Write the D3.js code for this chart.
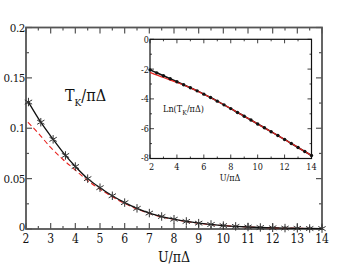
<!DOCTYPE html>
<html>
<head>
<meta charset="utf-8">
<script src="https://cdn.jsdelivr.net/npm/d3@7"></script>
<style>
  body { margin: 0; background: #fff; }
  svg text { font-family: "DejaVu Serif Condensed", "DejaVu Serif", serif; font-stretch: condensed; }
</style>
</head>
<body>
<div class="chart"></div>
<script>
// main panel: T_K / pi Delta vs U / pi Delta
const starU = [2.1, 2.6, 3.1, 3.6, 4, 4.5, 5, 5.5, 6, 6.5, 7, 7.5, 8, 8.5, 9, 9.5, 10, 10.5, 11, 11.5, 12, 12.5, 13, 13.5, 14];
const starTk = [0.126, 0.106, 0.089, 0.073, 0.062, 0.050, 0.041, 0.033, 0.0262, 0.0205, 0.0158, 0.0124, 0.0097, 0.0075, 0.0058, 0.0045, 0.0034, 0.0026, 0.0020, 0.0015, 0.0012, 0.0009, 0.0007, 0.0005, 0.0004];
const redU = [2.08, 2.5, 3, 3.5, 4, 4.5, 5, 5.5, 6, 6.5, 7, 7.5, 8, 9, 10, 11, 12, 13, 14];
const redTk = [0.106, 0.095, 0.081, 0.069, 0.0585, 0.048, 0.0395, 0.032, 0.0253, 0.0198, 0.0154, 0.012, 0.0095, 0.0057, 0.0034, 0.002, 0.0012, 0.0007, 0.0004];
const mainXTicks = [2, 3, 4, 5, 6, 7, 8, 9, 10, 11, 12, 13, 14];
const mainYTicks = [0, 0.05, 0.1, 0.15, 0.2];
const mainYLabels = ['0', '0.05', '0.1', '0.15', '0.2'];

// inset: Ln(T_K / pi Delta)
const insetU = [2, 2.5, 3, 3.5, 4, 4.5, 5, 5.5, 6, 6.5, 7, 7.5, 8, 8.5, 9, 9.5, 10, 10.5, 11, 11.5, 12, 12.5, 13, 13.5, 14];
const insetLn = [-2.05, -2.25, -2.45, -2.65, -2.85, -3.05, -3.25, -3.46, -3.68, -3.91, -4.15, -4.40, -4.65, -4.91, -5.16, -5.42, -5.68, -5.94, -6.20, -6.46, -6.72, -6.99, -7.26, -7.53, -7.80];
const insetRedU = [2, 3, 4, 5, 6, 7, 8, 9, 10, 11, 12, 13, 14];
const insetRedLn = [-2.22, -2.57, -2.90, -3.26, -3.68, -4.15, -4.65, -5.16, -5.68, -6.20, -6.72, -7.26, -7.80];
const insetXTicks = [2, 4, 6, 8, 10, 12, 14];
const insetYTicks = [0, -2, -4, -6, -8];

const W = 349, H = 270;
const svg = d3.select('.chart').append('svg')
  .attr('width', W).attr('height', H)
  .attr('fill', '#111');

const x = d3.scaleLinear().domain([2, 14]).range([26, 322]);
const y = d3.scaleLinear().domain([0, 0.2]).range([229, 27.5]);

const frameColor = '#555';

// ticks (inward) on all four sides
function frameTicks(g, xs, ys, xMaj, xMin, yMaj, yMin, color, majLen, minLen, sw) {
  const [x0, x1] = xs.range();
  const [y0, y1] = ys.range();
  const tk = g.append('g').attr('stroke', color).attr('stroke-width', sw);
  xMaj.forEach(v => {
    tk.append('line').attr('x1', xs(v)).attr('x2', xs(v)).attr('y1', y0).attr('y2', y0 - majLen);
    tk.append('line').attr('x1', xs(v)).attr('x2', xs(v)).attr('y1', y1).attr('y2', y1 + majLen);
  });
  xMin.forEach(v => {
    tk.append('line').attr('x1', xs(v)).attr('x2', xs(v)).attr('y1', y0).attr('y2', y0 - minLen);
    tk.append('line').attr('x1', xs(v)).attr('x2', xs(v)).attr('y1', y1).attr('y2', y1 + minLen);
  });
  yMaj.forEach(v => {
    tk.append('line').attr('y1', ys(v)).attr('y2', ys(v)).attr('x1', x0).attr('x2', x0 + majLen);
    tk.append('line').attr('y1', ys(v)).attr('y2', ys(v)).attr('x1', x1).attr('x2', x1 - majLen);
  });
  yMin.forEach(v => {
    tk.append('line').attr('y1', ys(v)).attr('y2', ys(v)).attr('x1', x0).attr('x2', x0 + minLen);
    tk.append('line').attr('y1', ys(v)).attr('y2', ys(v)).attr('x1', x1).attr('x2', x1 - minLen);
  });
}

const main = svg.append('g');
frameTicks(main, x, y,
  mainXTicks, d3.range(2.5, 14, 1),
  mainYTicks, [0.025, 0.075, 0.125, 0.175],
  frameColor, 6, 3, 1.2);

main.append('rect')
  .attr('x', x(2)).attr('y', y(0.2))
  .attr('width', x(14) - x(2)).attr('height', y(0) - y(0.2))
  .attr('fill', 'none').attr('stroke', frameColor).attr('stroke-width', 1.8);

main.selectAll('.xlab').data(mainXTicks).enter().append('text')
  .attr('x', d => x(d)).attr('y', y(0) + 14)
  .attr('text-anchor', 'middle').attr('font-size', 12)
  .text(d => d);

main.selectAll('.ylab').data(mainYTicks).enter().append('text')
  .attr('x', x(2) - 1).attr('y', d => y(d) + (d === 0 ? 2 : 4))
  .attr('text-anchor', 'end').attr('font-size', 11.5)
  .attr('letter-spacing', -0.4)
  .text((d, i) => mainYLabels[i]);

// curves
const line = d3.line().x(d => x(d[0])).y(d => y(d[1])).curve(d3.curveMonotoneX);

main.append('path')
  .datum(redU.map((u, i) => [u, redTk[i]]))
  .attr('d', line)
  .attr('fill', 'none').attr('stroke', '#e8231f').attr('stroke-width', 1.1)
  .attr('stroke-dasharray', '5,3');

main.append('path')
  .datum(starU.map((u, i) => [u, starTk[i]]))
  .attr('d', line)
  .attr('fill', 'none').attr('stroke', '#111').attr('stroke-width', 1.3);

const star = d3.symbol().type(d3.symbolAsterisk).size(50);
main.selectAll('.star').data(starU).enter().append('path')
  .attr('d', star)
  .attr('transform', (d, i) => `translate(${x(d)},${y(starTk[i])})`)
  .attr('fill', 'none').attr('stroke', '#333').attr('stroke-width', 1);

// labels
const tkLabel = main.append('text').attr('x', 65).attr('y', 101).attr('font-size', 16);
tkLabel.append('tspan').text('T');
tkLabel.append('tspan').attr('font-size', 10).attr('dy', 5).text('K');
tkLabel.append('tspan').attr('dy', -5).text('/πΔ');

main.append('text')
  .attr('x', 174).attr('y', 262)
  .attr('text-anchor', 'middle').attr('font-size', 14)
  .text('U/πΔ');

// inset
const ix = d3.scaleLinear().domain([2, 14]).range([150, 311.5]);
const iy = d3.scaleLinear().domain([-8, 0]).range([158.5, 39.3]);
const inset = svg.append('g');

inset.append('rect')
  .attr('x', ix(2)).attr('y', iy(0))
  .attr('width', ix(14) - ix(2)).attr('height', iy(-8) - iy(0))
  .attr('fill', '#fff');

frameTicks(inset, ix, iy,
  insetXTicks, [3, 5, 7, 9, 11, 13],
  insetYTicks, [-1, -3, -5, -7],
  '#111', 4, 2, 0.8);

inset.append('rect')
  .attr('x', ix(2)).attr('y', iy(0))
  .attr('width', ix(14) - ix(2)).attr('height', iy(-8) - iy(0))
  .attr('fill', 'none').attr('stroke', '#111').attr('stroke-width', 1.2);

inset.selectAll('.ixlab').data(insetXTicks).enter().append('text')
  .attr('x', d => ix(d) + (d === 2 ? 1.5 : 0)).attr('y', iy(-8) + 11)
  .attr('text-anchor', 'middle').attr('font-size', 9)
  .text(d => d);

inset.selectAll('.iylab').data(insetYTicks).enter().append('text')
  .attr('x', ix(2) - 1).attr('y', d => iy(d) + (d === -8 ? 2 : 3.5))
  .attr('text-anchor', 'end').attr('font-size', 9)
  .text(d => d === 0 ? '0' : '-' + Math.abs(d));

const iline = d3.line().x(d => ix(d[0])).y(d => iy(d[1])).curve(d3.curveMonotoneX);

inset.append('path')
  .datum(insetU.map((u, i) => [u, insetLn[i]]))
  .attr('d', iline)
  .attr('fill', 'none').attr('stroke', '#111').attr('stroke-width', 1.6);

inset.append('path')
  .datum(insetRedU.map((u, i) => [u, insetRedLn[i]]))
  .attr('d', iline)
  .attr('fill', 'none').attr('stroke', '#e8231f').attr('stroke-width', 1.1);

inset.selectAll('.dot').data(insetU).enter().append('circle')
  .attr('cx', d => ix(d)).attr('cy', (d, i) => iy(insetLn[i]))
  .attr('r', 1.7).attr('fill', '#111');

const lnLabel = inset.append('text').attr('x', 163).attr('y', 112).attr('font-size', 9);
lnLabel.append('tspan').text('Ln(T');
lnLabel.append('tspan').attr('font-size', 7).attr('dy', 3).text('K');
lnLabel.append('tspan').attr('dy', -3).text('/πΔ)');

inset.append('text')
  .attr('x', 230).attr('y', 181)
  .attr('text-anchor', 'middle').attr('font-size', 9)
  .text('U/πΔ');
</script>
</body>
</html>
